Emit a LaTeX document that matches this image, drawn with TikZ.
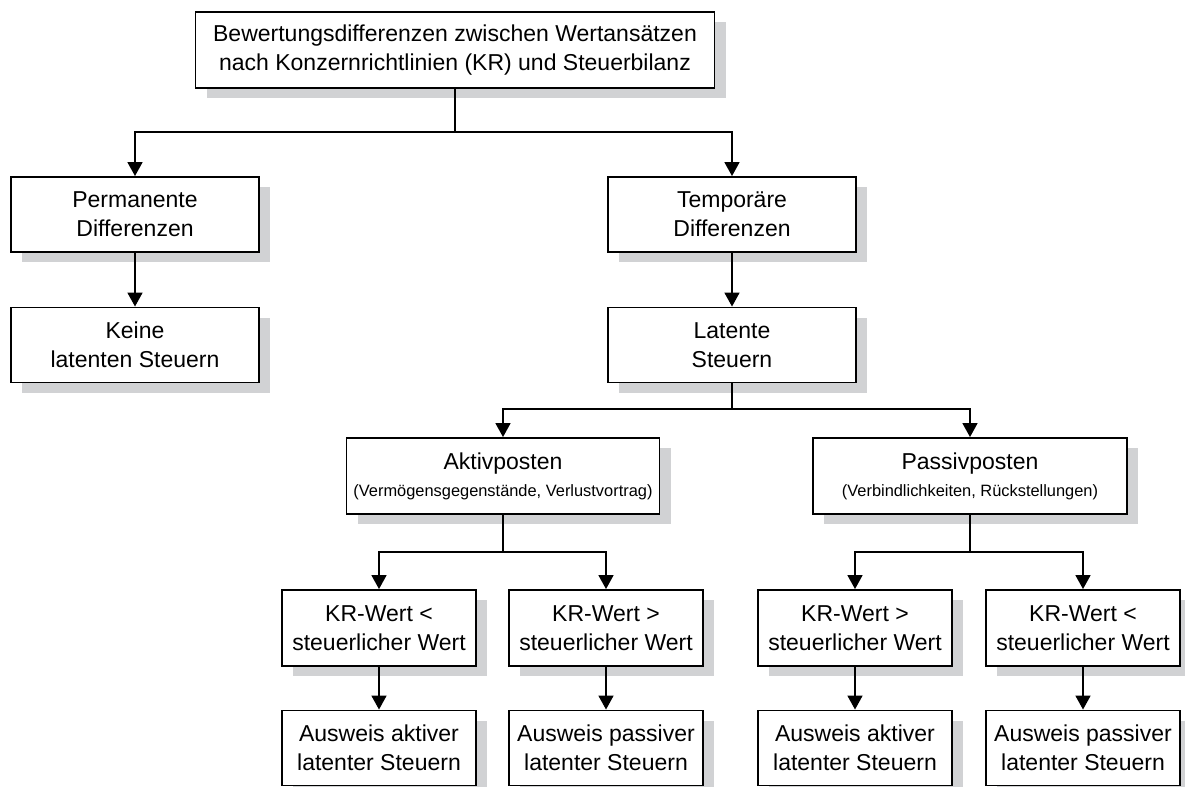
\documentclass[tikz,border=0pt]{standalone}
\usepackage{fontspec}
\setmainfont{Liberation Sans}
\usetikzlibrary{arrows.meta,shadows}
\definecolor{schatten}{HTML}{D1D2D4}
\tikzset{
  kasten/.style={draw, line width=0.95pt, fill=white, align=center, inner sep=0pt,
    minimum height=37.5pt, font=\fontsize{11.5}{14.5}\selectfont,
    drop shadow={shadow xshift=5.5pt, shadow yshift=-5pt, fill=schatten, opacity=1}},
  pfeil/.style={-{Triangle[width=7.5pt,length=7pt]}, line width=0.9pt}
}
\begin{document}
\begin{tikzpicture}[x=0.5pt, y=-0.5pt]
    \useasboundingbox (0,0) rectangle (1185,787);

    % oberste Ebene
    \node[kasten, minimum width=259.5pt, minimum height=38pt] (bewertung) at (455,50)
        {Bewertungsdifferenzen zwischen Wertansätzen\\nach Konzernrichtlinien (KR) und Steuerbilanz};

    % permanente / temporaere Differenzen
    \node[kasten, minimum width=124pt] (perm) at (135,214.5) {Permanente\\Differenzen};
    \node[kasten, minimum width=124pt] (temp) at (732,214.5) {Temporäre\\Differenzen};
    \node[kasten, minimum width=124pt] (keine) at (135,345) {Keine\\latenten Steuern};
    \node[kasten, minimum width=124pt] (latent) at (732,345) {Latente\\Steuern};

    % Aktiv- und Passivposten
    \node[kasten, minimum width=156.5pt, minimum height=38pt] (aktiv) at (503,476)
        {Aktivposten\\[-1pt]{\fontsize{8.2}{10}\selectfont(Vermögensgegenstände, Verlustvortrag)}};
    \node[kasten, minimum width=157pt, minimum height=38pt] (passiv) at (970,476)
        {Passivposten\\[-1pt]{\fontsize{8.2}{10}\selectfont(Verbindlichkeiten, Rückstellungen)}};

    % Vergleich KR-Wert
    \node[kasten, minimum width=97pt, minimum height=38pt] (kra) at (379,628) {KR-Wert <\\steuerlicher Wert};
    \node[kasten, minimum width=97pt, minimum height=38pt] (krb) at (606,628) {KR-Wert >\\steuerlicher Wert};
    \node[kasten, minimum width=97pt, minimum height=38pt] (krc) at (855,628) {KR-Wert >\\steuerlicher Wert};
    \node[kasten, minimum width=97pt, minimum height=38pt] (krd) at (1083,628) {KR-Wert <\\steuerlicher Wert};

    % Ausweis
    \node[kasten, minimum width=97pt] (ausa) at (379,748) {Ausweis aktiver\\latenter Steuern};
    \node[kasten, minimum width=97pt] (ausb) at (606,748) {Ausweis passiver\\latenter Steuern};
    \node[kasten, minimum width=97pt] (ausc) at (855,748) {Ausweis aktiver\\latenter Steuern};
    \node[kasten, minimum width=97pt] (ausd) at (1083,748) {Ausweis passiver\\latenter Steuern};

    % Verzweigungspunkte
    \coordinate (v1) at (455,132);
    \coordinate (v2) at (732,409);
    \coordinate (v3) at (503,552);
    \coordinate (v4) at (970,552);

    % Verbindungen
    \draw[line width=0.9pt] (bewertung.south) -- (v1);
    \draw[pfeil] (v1) -| (perm.north);
    \draw[pfeil] (v1) -| (temp.north);
    \draw[pfeil] (perm) -- (keine);
    \draw[pfeil] (temp) -- (latent);

    \draw[line width=0.9pt] (latent.south) -- (v2);
    \draw[pfeil] (v2) -| (aktiv.north);
    \draw[pfeil] (v2) -| (passiv.north);

    \draw[line width=0.9pt] (aktiv.south) -- (v3);
    \draw[pfeil] (v3) -| (kra.north);
    \draw[pfeil] (v3) -| (krb.north);
    \draw[line width=0.9pt] (passiv.south) -- (v4);
    \draw[pfeil] (v4) -| (krc.north);
    \draw[pfeil] (v4) -| (krd.north);

    \draw[pfeil] (kra) -- (ausa);
    \draw[pfeil] (krb) -- (ausb);
    \draw[pfeil] (krc) -- (ausc);
    \draw[pfeil] (krd) -- (ausd);
\end{tikzpicture}
\end{document}
